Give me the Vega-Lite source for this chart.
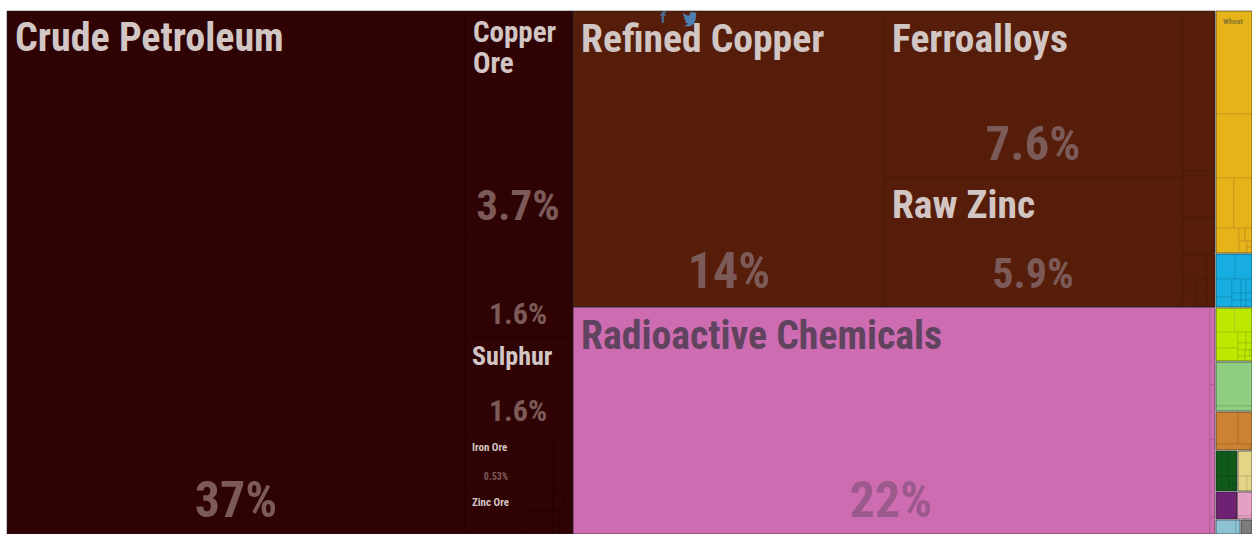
{"$schema":"https://vega.github.io/schema/vega-lite/v6.json","width":1252,"height":534,"padding":0,"autosize":{"type":"none"},"background":"white","config":{"view":{"stroke":null}},
"datasets":{
"sections":[{"g":"Mineral Products","x":0,"x2":566,"y":0,"y2":523},{"g":"Metals","x":566,"x2":1208,"y":0,"y2":296},{"g":"Chemical Products","x":566,"x2":1208,"y":296,"y2":523},{"g":"Vegetable Products","x":1209,"x2":1245,"y":0,"y2":242},{"g":"Machines","x":1209,"x2":1245,"y":243,"y2":296},{"g":"Transportation","x":1209,"x2":1245,"y":297,"y2":350},{"g":"Precious Metals","x":1209,"x2":1245,"y":351,"y2":400},{"g":"Textiles","x":1209,"x2":1245,"y":401,"y2":439},{"g":"Instruments","x":1209,"x2":1230,"y":440,"y2":480},{"g":"Foodstuffs","x":1231,"x2":1245,"y":440,"y2":480},{"g":"Animal Products","x":1209,"x2":1230,"y":481,"y2":508},{"g":"Plastics","x":1230,"x2":1245,"y":481,"y2":508},{"g":"Paper","x":1209,"x2":1233,"y":509,"y2":523},{"g":"Miscellaneous","x":1234,"x2":1245,"y":509,"y2":523}],
"tiles":[
{"g":"Mineral Products","x":0,"x2":458,"y":0,"y2":523},{"g":"Mineral Products","x":458,"x2":566,"y":0,"y2":226},{"g":"Mineral Products","x":458,"x2":566,"y":226,"y2":326},{"g":"Mineral Products","x":458,"x2":566,"y":326,"y2":425},{"g":"Mineral Products","x":458,"x2":521,"y":425,"y2":479},{"g":"Mineral Products","x":521,"x2":547,"y":425,"y2":479},{"g":"Mineral Products","x":547,"x2":566,"y":425,"y2":479},{"g":"Mineral Products","x":458,"x2":521,"y":479,"y2":523},{"g":"Mineral Products","x":521,"x2":546,"y":479,"y2":500},{"g":"Mineral Products","x":546,"x2":558,"y":479,"y2":500},{"g":"Mineral Products","x":558,"x2":566,"y":479,"y2":500},{"g":"Mineral Products","x":521,"x2":546,"y":500,"y2":514},{"g":"Mineral Products","x":521,"x2":546,"y":514,"y2":523},{"g":"Mineral Products","x":546,"x2":553,"y":500,"y2":514},{"g":"Mineral Products","x":553,"x2":566,"y":500,"y2":514},{"g":"Mineral Products","x":546,"x2":553,"y":514,"y2":523},{"g":"Mineral Products","x":553,"x2":566,"y":514,"y2":523},
{"g":"Metals","x":566,"x2":878,"y":0,"y2":296},{"g":"Metals","x":878,"x2":1176,"y":0,"y2":166},{"g":"Metals","x":878,"x2":1176,"y":166,"y2":296},{"g":"Metals","x":1176,"x2":1208,"y":0,"y2":160},{"g":"Metals","x":1176,"x2":1208,"y":160,"y2":206},{"g":"Metals","x":1176,"x2":1208,"y":206,"y2":244},{"g":"Metals","x":1176,"x2":1200,"y":244,"y2":269},{"g":"Metals","x":1200,"x2":1208,"y":244,"y2":269},{"g":"Metals","x":1176,"x2":1190,"y":269,"y2":282},{"g":"Metals","x":1176,"x2":1190,"y":282,"y2":296},{"g":"Metals","x":1190,"x2":1200,"y":269,"y2":296},{"g":"Metals","x":1200,"x2":1208,"y":269,"y2":287},{"g":"Metals","x":1200,"x2":1208,"y":287,"y2":296},
{"g":"Chemical Products","x":566,"x2":1203,"y":296,"y2":523},{"g":"Chemical Products","x":1203,"x2":1208,"y":296,"y2":374},{"g":"Chemical Products","x":1203,"x2":1208,"y":374,"y2":429},{"g":"Chemical Products","x":1203,"x2":1208,"y":429,"y2":506},{"g":"Chemical Products","x":1203,"x2":1208,"y":506,"y2":523},
{"g":"Vegetable Products","x":1209,"x2":1245,"y":0,"y2":103},{"g":"Vegetable Products","x":1209,"x2":1245,"y":103,"y2":167},{"g":"Vegetable Products","x":1209,"x2":1227,"y":167,"y2":217},{"g":"Vegetable Products","x":1227,"x2":1245,"y":167,"y2":217},{"g":"Vegetable Products","x":1209,"x2":1232,"y":217,"y2":242},{"g":"Vegetable Products","x":1232,"x2":1238,"y":217,"y2":230},{"g":"Vegetable Products","x":1238,"x2":1245,"y":217,"y2":230},{"g":"Vegetable Products","x":1232,"x2":1240,"y":230,"y2":242},{"g":"Vegetable Products","x":1240,"x2":1245,"y":230,"y2":236},{"g":"Vegetable Products","x":1240,"x2":1245,"y":236,"y2":242},
{"g":"Machines","x":1209,"x2":1228,"y":243,"y2":268},{"g":"Machines","x":1228,"x2":1245,"y":243,"y2":268},{"g":"Machines","x":1209,"x2":1225,"y":268,"y2":286},{"g":"Machines","x":1209,"x2":1225,"y":286,"y2":296},{"g":"Machines","x":1225,"x2":1234,"y":268,"y2":282},{"g":"Machines","x":1234,"x2":1239,"y":268,"y2":282},{"g":"Machines","x":1239,"x2":1245,"y":268,"y2":282},{"g":"Machines","x":1225,"x2":1234,"y":282,"y2":289},{"g":"Machines","x":1225,"x2":1234,"y":289,"y2":296},{"g":"Machines","x":1234,"x2":1239,"y":282,"y2":289},{"g":"Machines","x":1239,"x2":1245,"y":282,"y2":289},{"g":"Machines","x":1234,"x2":1239,"y":289,"y2":296},{"g":"Machines","x":1239,"x2":1245,"y":289,"y2":296},
{"g":"Transportation","x":1209,"x2":1227.5,"y":297,"y2":321},{"g":"Transportation","x":1227.5,"x2":1245,"y":297,"y2":321},{"g":"Transportation","x":1209,"x2":1231,"y":321,"y2":337},{"g":"Transportation","x":1209,"x2":1231,"y":337,"y2":350},{"g":"Transportation","x":1231,"x2":1239,"y":321,"y2":332},{"g":"Transportation","x":1239,"x2":1245,"y":321,"y2":332},{"g":"Transportation","x":1231,"x2":1239,"y":332,"y2":339},{"g":"Transportation","x":1239,"x2":1245,"y":332,"y2":339},{"g":"Transportation","x":1231,"x2":1238,"y":339,"y2":345},{"g":"Transportation","x":1231,"x2":1238,"y":345,"y2":350},{"g":"Transportation","x":1238,"x2":1243,"y":339,"y2":345},{"g":"Transportation","x":1243,"x2":1245,"y":339,"y2":345},{"g":"Transportation","x":1238,"x2":1245,"y":345,"y2":350},
{"g":"Precious Metals","x":1209,"x2":1245,"y":351,"y2":395},{"g":"Precious Metals","x":1209,"x2":1245,"y":395,"y2":400},
{"g":"Textiles","x":1209,"x2":1231,"y":401,"y2":433},{"g":"Textiles","x":1231,"x2":1245,"y":401,"y2":433},{"g":"Textiles","x":1209,"x2":1243,"y":433,"y2":439},{"g":"Textiles","x":1243,"x2":1245,"y":433,"y2":439},
{"g":"Instruments","x":1209,"x2":1221,"y":440,"y2":465},{"g":"Instruments","x":1221,"x2":1230,"y":440,"y2":465},{"g":"Instruments","x":1209,"x2":1222,"y":465,"y2":480},{"g":"Instruments","x":1222,"x2":1230,"y":465,"y2":473},{"g":"Instruments","x":1222,"x2":1226,"y":473,"y2":480},{"g":"Instruments","x":1226,"x2":1230,"y":473,"y2":480},
{"g":"Foodstuffs","x":1231,"x2":1245,"y":440,"y2":465},{"g":"Foodstuffs","x":1231,"x2":1240,"y":465,"y2":480},{"g":"Foodstuffs","x":1240,"x2":1245,"y":465,"y2":480},
{"g":"Animal Products","x":1209,"x2":1230,"y":481,"y2":508},{"g":"Plastics","x":1230,"x2":1245,"y":481,"y2":505},{"g":"Plastics","x":1230,"x2":1245,"y":505,"y2":508},
{"g":"Paper","x":1209,"x2":1229,"y":509,"y2":523},{"g":"Paper","x":1229,"x2":1233,"y":509,"y2":523},{"g":"Miscellaneous","x":1234,"x2":1245,"y":509,"y2":523}],
"names":[{"g":"Mineral Products","label":"Crude Petroleum","share":37,"x":8,"y":40},{"g":"Mineral Products","label":"Copper\nOre","share":3.7,"x":466,"y":31},{"g":"Mineral Products","label":"Sulphur","share":1.6,"x":465,"y":354},{"g":"Mineral Products","label":"Iron Ore","share":0.53,"x":465,"y":440},{"g":"Mineral Products","label":"Zinc Ore","share":0.41,"x":465,"y":495},{"g":"Metals","label":"Refined Copper","share":14,"x":574,"y":41},{"g":"Metals","label":"Ferroalloys","share":7.6,"x":885,"y":41},{"g":"Metals","label":"Raw Zinc","share":5.9,"x":885,"y":207},{"g":"Chemical Products","label":"Radioactive Chemicals","share":22,"x":574,"y":338}],
"pcts":[{"g":"Mineral Products","label":"37%","share":37,"x":229,"y":506},{"g":"Mineral Products","label":"3.7%","share":3.7,"x":511,"y":209},{"g":"Mineral Products","label":"1.6%","share":1.6,"x":511,"y":313},{"g":"Mineral Products","label":"1.6%","share":1.6,"x":511,"y":410},{"g":"Mineral Products","label":"0.53%","share":0.53,"x":489,"y":469},{"g":"Metals","label":"14%","share":14,"x":722,"y":277},{"g":"Metals","label":"7.6%","share":7.6,"x":1026,"y":149},{"g":"Metals","label":"5.9%","share":5.9,"x":1026,"y":277},{"g":"Chemical Products","label":"22%","share":22,"x":884,"y":506}]
},
"encoding":{
"x":{"field":"x","type":"quantitative","axis":null,"scale":{"domain":[0,1245],"range":[7,1252],"nice":false,"zero":false}},
"y":{"field":"y","type":"quantitative","axis":null,"scale":{"domain":[0,523],"range":[11,534],"nice":false,"zero":false}}
},
"layer":[
{"data":{"name":"tiles"},"mark":{"type":"rect","stroke":"#000000","strokeOpacity":0.1,"strokeWidth":1},"encoding":{"x2":{"field":"x2"},"y2":{"field":"y2"},"color":{"field":"g","type":"nominal","legend":null,"scale":{"domain":["Mineral Products","Metals","Chemical Products","Vegetable Products","Machines","Transportation","Precious Metals","Textiles","Instruments","Foodstuffs","Animal Products","Plastics","Paper","Miscellaneous"],"range":["#2f0203","#561e0a","#ce6cb1","#e7b31b","#17ade0","#bde800","#8fcd80","#cb8232","#10591a","#e4d486","#6e2273","#e4a1c4","#8cc2d3","#7c7c7c"]}}}},
{"data":{"name":"sections"},"mark":{"type":"rect","fillOpacity":0,"stroke":"#2a2a2a","strokeOpacity":0.5,"strokeWidth":1},"encoding":{"x2":{"field":"x2"},"y2":{"field":"y2"}}},
{"data":{"name":"names"},"mark":{"type":"text","font":"Roboto Condensed, DejaVu Sans Condensed, Open Sans Condensed, sans-serif","fontWeight":"bold","align":"left","baseline":"alphabetic","lineBreak":"\n","lineHeight":31},"encoding":{"text":{"field":"label"},"size":{"field":"share","type":"quantitative","legend":null,"scale":{"domain":[0.41,0.53,1.6,3.7,5.9,37],"range":[11,11,26,29,39.5,40]}},"color":{"condition":{"test":"datum.g==='Chemical Products'","value":"#60435f"},"value":"#d2c6c4"}}},
{"data":{"name":"pcts"},"mark":{"type":"text","font":"Roboto Condensed, DejaVu Sans Condensed, Open Sans Condensed, sans-serif","fontWeight":"bold","align":"center","baseline":"alphabetic"},"encoding":{"text":{"field":"label"},"size":{"field":"share","type":"quantitative","legend":null,"scale":{"domain":[0.53,1.6,3.7,5.9,7.6,14,37],"range":[10,30,43,42,49,50,50]}},"color":{"condition":{"test":"datum.g==='Chemical Products'","value":"#9c5a8c"},"value":"#7b5a58"}}},
{"data":{"values":[{"label":"Wheat","x":1226,"y":13}]},"mark":{"type":"text","font":"Roboto Condensed, DejaVu Sans Condensed, Open Sans Condensed, sans-serif","fontWeight":"bold","fontSize":8,"align":"center","baseline":"alphabetic","color":"#8a7a2a"},"encoding":{"text":{"field":"label"}}},
{"data":{"values":[{"label":"f","x":656,"y":12}]},"mark":{"type":"text","font":"Roboto","fontWeight":"bold","fontSize":16,"align":"center","baseline":"alphabetic","color":"#4a6a90"},"encoding":{"text":{"field":"label"}}},
{"data":{"values":[{"label":"twitter","x":683,"y":7}]},"mark":{"type":"point","filled":true,"opacity":1,"color":"#4f7fb0","size":170,"shape":"M1,-0.75 C0.9,-0.7 0.85,-0.68 0.75,-0.66 C0.85,-0.72 0.92,-0.82 0.95,-0.92 C0.85,-0.86 0.76,-0.82 0.65,-0.8 C0.3,-1.1 -0.2,-0.75 -0.1,-0.35 C-0.5,-0.37 -0.8,-0.55 -1,-0.8 C-1.1,-0.5 -1,-0.15 -0.7,0 C-0.8,0 -0.9,-0.03 -0.95,-0.07 C-0.95,0.2 -0.75,0.42 -0.5,0.47 C-0.6,0.5 -0.7,0.5 -0.78,0.48 C-0.7,0.7 -0.48,0.85 -0.25,0.87 C-0.5,1.05 -0.75,1.1 -1,1.08 C0.1,1.7 1,0.9 0.9,-0.45 C0.95,-0.5 1,-0.6 1,-0.75 Z"},"encoding":{}}
],
"resolve":{"scale":{"size":"independent"}}}
